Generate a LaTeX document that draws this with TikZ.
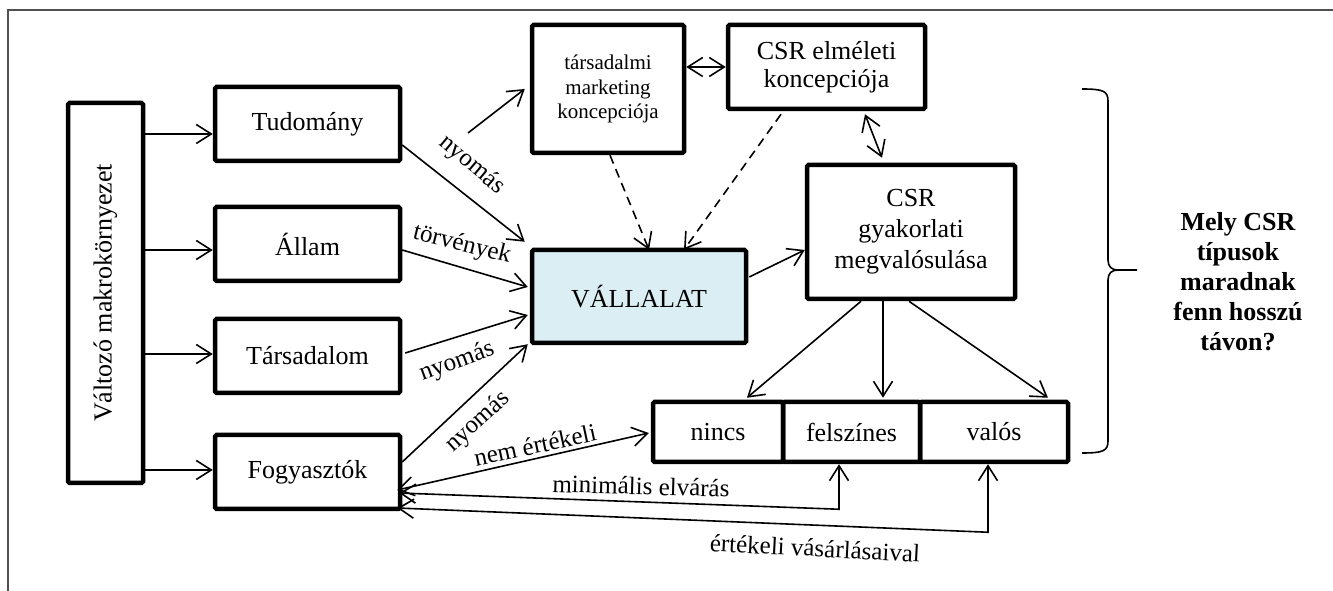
\documentclass[tikz,border=0pt]{standalone}
\usepackage{fontspec}
\usepackage{graphicx}
\setmainfont{Liberation Serif}
\usetikzlibrary{arrows.meta,calc}
\definecolor{vallfill}{HTML}{DAEEF3}
\definecolor{framegray}{HTML}{505050}
\begin{document}
\begin{tikzpicture}[x=1pt,y=1pt,
  box/.style={draw, line width=4.5pt, rounded corners=1.5pt, inner sep=0pt,
    align=center, font=\fontsize{26}{31}\selectfont},
  tipV/.tip={Straight Barb[length=15pt,width=19pt]},
  link/.style={line width=1.6pt, -tipV},
  both/.style={line width=1.6pt, tipV-tipV},
  dashlink/.style={link, dash pattern=on 9pt off 6pt},
  lbl/.style={font=\fontsize{25}{30}\selectfont, inner sep=0pt},
]
\useasboundingbox (0,0) rectangle (1333,591);

% outer frame (top and left edges)
\draw[line width=1.2pt, framegray] (8,0) -- (8,581) -- (1333,581);

% left column
\node[box, minimum width=75pt, minimum height=380pt] (macro) at (105.5,298)
  {\rotatebox{90}{Változó makrokörnyezet}};
\node[box, minimum width=185pt, minimum height=74pt] (tud)  at (307.5,467) {Tudomány};
\node[box, minimum width=185pt, minimum height=74pt] (all)  at (307.5,347) {Állam};
\node[box, minimum width=185pt, minimum height=74pt] (tars) at (307.5,235) {Társadalom};
\node[box, minimum width=185pt, minimum height=74pt] (fogy) at (307.5,119) {Fogyasztók};

% concepts
\node[box, minimum width=152pt, minimum height=128pt, font=\fontsize{21}{24.5}\selectfont]
  (mark) at (608,502) {társadalmi\\marketing\\koncepciója};
\node[box, minimum width=197pt, minimum height=84pt, font=\fontsize{26}{28.5}\selectfont]
  (elm) at (826.5,524) {CSR elméleti\\koncepciója};

% company and practice
\node[box, fill=vallfill, minimum width=214pt, minimum height=93pt] (vall) at (639,294.5) {VÁLLALAT};
\node[box, minimum width=208pt, minimum height=134pt] (gyak) at (911,359)
  {CSR\\gyakorlati\\megvalósulása};

% CSR types
\node[box, minimum width=130pt, minimum height=60pt] (nincs) at (718,159) {nincs};
\node[box, minimum width=137pt, minimum height=60pt] (felsz) at (851.5,159) {felszínes};
\node[box, minimum width=148pt, minimum height=60pt] (valos) at (994,159) {valós};

% question
\node[font=\bfseries\fontsize{26}{30}\selectfont, align=center] (q) at (1238,309)
  {Mely CSR\\típusok\\maradnak\\fenn hosszú\\távon?};

% brace
\draw[line width=1.6pt] (1082,502) .. controls (1103,502) and (1108,500) .. (1108,490)
  -- (1108,331) .. controls (1108,324) and (1112,321) .. (1118,321) -- (1137,321);
\draw[line width=1.6pt] (1118,321) .. controls (1112,321) and (1108,318) .. (1108,311)
  -- (1108,150) .. controls (1108,140) and (1103,138) .. (1082,138);

% environment arrows
\coordinate (a1) at ($(tud.west)+(0,-10)$);
\coordinate (a2) at ($(all.west)+(0,-6)$);
\coordinate (a3) at ($(tars.west)+(0,2)$);
\coordinate (a4) at ($(fogy.west)+(0,2)$);
\draw[link] (macro.east |- a1) -- (a1);
\draw[link] (macro.east |- a2) -- (a2);
\draw[link] (macro.east |- a3) -- (a3);
\draw[link] (macro.east |- a4) -- (a4);

% pressures on the company
\draw[link] ($(tud.east)+(0,-21)$) -- ($(vall.north west)+(-5,6)$);
\node[lbl, rotate=-40] (l1) at (472,426) {nyomás};
\draw[link] ($(all.east)+(0,-6)$) -- ($(vall.west)+(-2,9.5)$);
\node[lbl, rotate=-14] (l2) at (462,346) {törvények};
\draw[link] ($(tars.east)+(3,3)$) -- ($(vall.west)+(-2,-18.5)$);
\node[lbl, rotate=20] (l3) at (457,229) {nyomás};
\draw[link] ($(fogy.east)+(0,10)$) -- ($(vall.south west)+(-2,1)$);
\node[lbl, rotate=42] (l4) at (478,169) {nyomás};

% concepts
\coordinate (mstart) at (468,458);
\draw[link] (mstart) -- ($(mark.west)+(-5,0)$);
\draw[both] (mark.east |- elm.west) -- (elm.west);
\draw[both] ($(elm.south)+(38.5,-3)$) -- ($(gyak.north)+(-29,5)$);
\draw[dashlink] ($(mark.south)+(2,0)$) -- ($(vall.north)+(10,-2)$);
\draw[dashlink] ($(elm.south)+(-45.5,-3)$) -- ($(vall.north)+(45,-2)$);

% practice
\draw[link] ($(vall.east)+(1,19.5)$) -- ($(gyak.west)+(0,-18)$);
\draw[link] ($(gyak.south)+(-50,0)$) -- ($(nincs.north)+(29,2)$);
\draw[link] ($(gyak.south)+(-28,0)$) -- ($(felsz.north)+(31.5,2)$);
\draw[link] ($(gyak.south)+(-2,0)$) -- ($(valos.north)+(54,2)$);

% consumer feedback
\draw[both] ($(fogy.east)+(-5,-18)$) -- ($(nincs.west)+(-2,-1)$);
\node[lbl, rotate=12] (l5) at (535,146) {nem értékeli};
\draw[both] ($(fogy.east)+(-3,-21)$) -- ($(felsz.south)+(-12.5,-45)$) -- ($(felsz.south)+(-12.5,0)$);
\node[lbl, rotate=-1.5] (l6) at (641,105) {minimális elvárás};
\draw[both] ($(fogy.east)+(-5,-36)$) -- ($(valos.south)+(-6,-68)$) -- ($(valos.south)+(-6,0)$);
\node[lbl, rotate=-3] (l7) at (815,43) {értékeli vásárlásaival};
\end{tikzpicture}
\end{document}
